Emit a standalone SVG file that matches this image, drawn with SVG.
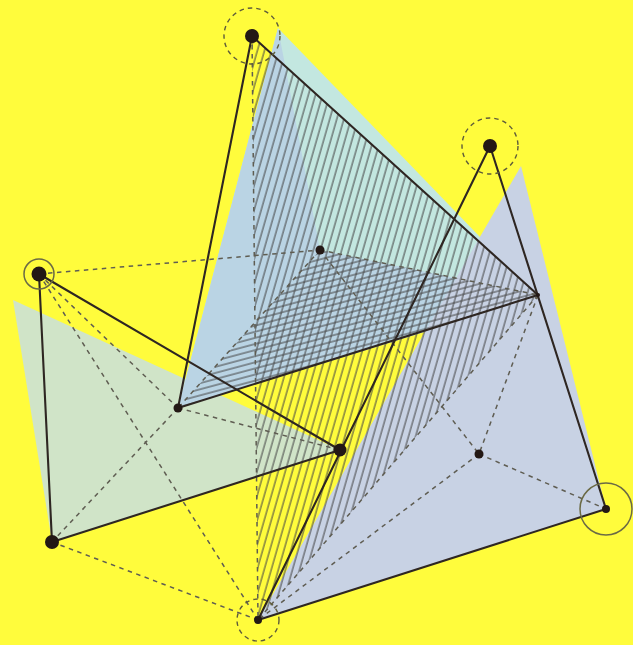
<svg xmlns="http://www.w3.org/2000/svg" width="633" height="645" viewBox="0 0 633 645">
<style>
.solid{stroke:#2e2622;stroke-width:2.1;fill:none;stroke-linecap:round}
.dash{stroke:#5f5d52;stroke-width:1.5;stroke-dasharray:4.5 4.5;fill:none}
.dot{fill:#231815}
.ring-d{fill:none;stroke:#5f5c3a;stroke-width:1.4;stroke-dasharray:4.5 4}
.ring-s{fill:none;stroke:#6b6a45;stroke-width:1.5}
</style>
<defs>
<pattern id="h1" width="6.8" height="20" patternUnits="userSpaceOnUse" patternTransform="rotate(16)">
<line x1="3" y1="0" x2="3" y2="20" stroke="#444" stroke-opacity=".85" stroke-width="1.2"/>
</pattern>
<pattern id="h2" width="20" height="5.9" patternUnits="userSpaceOnUse" patternTransform="rotate(-15)">
<line x1="0" y1="3" x2="20" y2="3" stroke="#444" stroke-opacity=".85" stroke-width="1.2"/>
</pattern>
</defs>
<rect width="633" height="645" fill="#fffc3c"/>
<g id="shades">
<polygon points="13,300 340,450 52,542" fill="#d0e4c8"/>
<polygon points="278,28 538,297 178,408" fill="#c3e7e0"/>
<polygon points="278,28 320,250 538,295 178,408" fill="#bad4e4"/>
<polygon points="521,166 606,509 258,620" fill="#c8d2e4"/>
</g>
<g id="hatching">
<polygon points="252,36 538,295 258,620" fill="url(#h1)"/>
<polygon points="320,250 538,295 178,408" fill="url(#h2)"/>
</g>
<g id="connectors">
<line class="dash" x1="39" y1="274" x2="320" y2="250"/>
<line class="dash" x1="39" y1="274" x2="178" y2="408"/>
<line class="dash" x1="39" y1="274" x2="258" y2="620"/>
<line class="dash" x1="252" y1="36" x2="258" y2="620"/>
<line class="dash" x1="320" y1="250" x2="178" y2="408"/>
<line class="dash" x1="320" y1="250" x2="538" y2="295"/>
<line class="dash" x1="320" y1="250" x2="479" y2="454"/>
<line class="dash" x1="178" y1="408" x2="340" y2="450"/>
<line class="dash" x1="178" y1="408" x2="52" y2="542"/>
<line class="dash" x1="52" y1="542" x2="258" y2="620"/>
<line class="dash" x1="538" y1="295" x2="258" y2="620"/>
<line class="dash" x1="538" y1="295" x2="479" y2="454"/>
<line class="dash" x1="479" y1="454" x2="258" y2="620"/>
<line class="dash" x1="479" y1="454" x2="606" y2="509"/>
<line class="solid" x1="252" y1="36" x2="178" y2="408"/>
<line class="solid" x1="252" y1="36" x2="538" y2="295"/>
<line class="solid" x1="178" y1="408" x2="538" y2="295"/>
<line class="solid" x1="490" y1="146" x2="258" y2="620"/>
<line class="solid" x1="490" y1="146" x2="606" y2="509"/>
<line class="solid" x1="606" y1="509" x2="258" y2="620"/>
<line class="solid" x1="39" y1="274" x2="52" y2="542"/>
<line class="solid" x1="39" y1="274" x2="340" y2="450"/>
<line class="solid" x1="340" y1="450" x2="52" y2="542"/>
</g>
<g id="node-a"><circle class="ring-d" cx="252" cy="36" r="28"/><circle class="dot" cx="252" cy="36" r="7"/></g>
<g id="node-b"><circle class="ring-d" cx="490" cy="146" r="28"/><circle class="dot" cx="490" cy="146" r="7"/></g>
<g id="node-c"><circle class="ring-s" cx="39" cy="274" r="15"/><circle class="dot" cx="39" cy="274" r="7.5"/></g>
<g id="node-d"><circle class="dot" cx="320" cy="250" r="4.5"/></g>
<g id="node-e"><circle class="dot" cx="538" cy="295" r="2"/></g>
<g id="node-f"><circle class="dot" cx="178" cy="408" r="4.5"/></g>
<g id="node-g"><circle class="dot" cx="340" cy="450" r="6.5"/></g>
<g id="node-h"><circle class="dot" cx="479" cy="454" r="4.5"/></g>
<g id="node-i"><circle class="ring-s" cx="606" cy="509" r="26"/><circle class="dot" cx="606" cy="509" r="4"/></g>
<g id="node-j"><circle class="dot" cx="52" cy="542" r="7"/></g>
<g id="node-k"><circle class="ring-d" cx="258" cy="620" r="21"/><circle class="dot" cx="258" cy="620" r="4"/></g>
</svg>
